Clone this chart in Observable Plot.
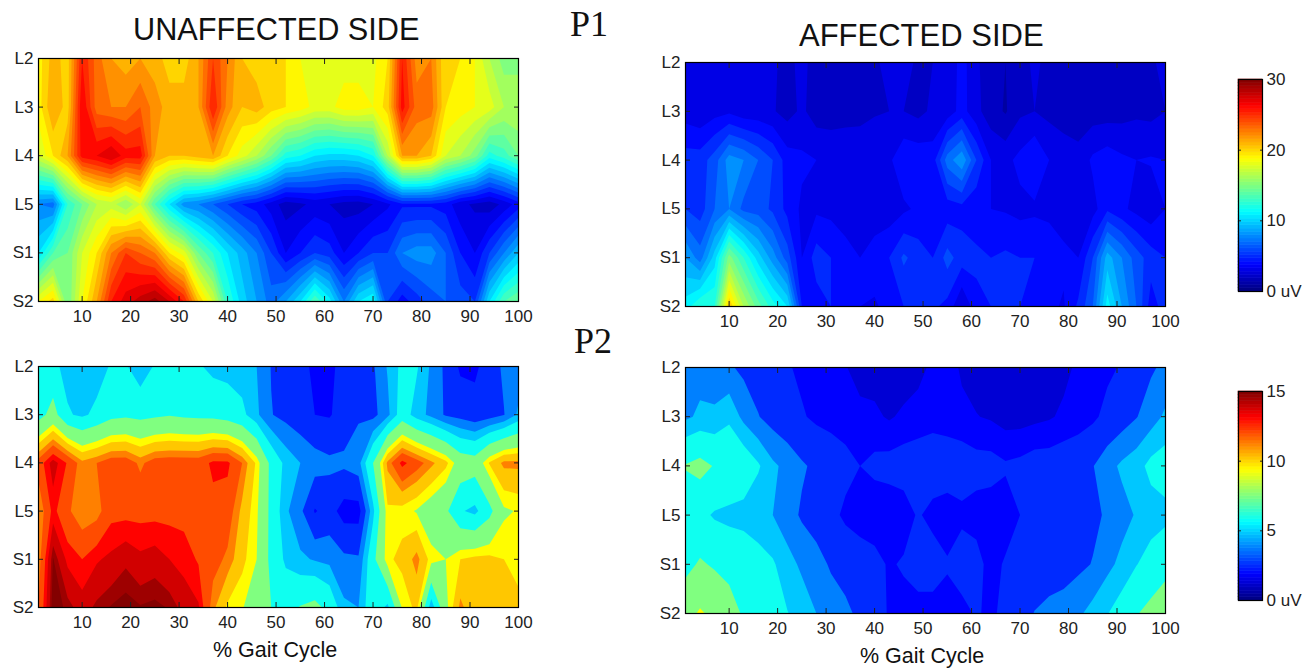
<!DOCTYPE html>
<html>
<head>
<meta charset="utf-8">
<script src="https://cdn.jsdelivr.net/npm/d3@7"></script>
<script src="https://cdn.jsdelivr.net/npm/@observablehq/plot@0.6"></script>
<style>
html,body{margin:0;padding:0;background:#fff;}
#page{position:relative;width:1315px;height:669px;overflow:hidden;font-family:"Liberation Sans",Arial,sans-serif;color:#111;}
#page svg{position:absolute;overflow:visible;background:transparent;}
.t{position:absolute;white-space:nowrap;line-height:1;}
</style>
</head>
<body>
<div id="page"></div>
<script>
const levels = ["L2","L3","L4","L5","S1","S2"];
const gaitTicks = [10,20,30,40,50,60,70,80,90,100];
// Samples at 1,4,7,…,100 % of the gait cycle (34 columns)
const unaffP1_L2 = [19.5,21.5,20.5,26,23.5,22,21.5,22,21.5,20.5,20.5,22,25,23,21,20.5,20.5,20,19,18.5,18.5,18.5,18.5,18.7,20,26,22.5,23,20,20,19,17,15.5,15.5];
const unaffP1_L3 = [19.5,22,20.5,27,23.5,23,23,24,22.5,21.5,21.5,22,26,22.5,21,21.5,20.5,20,19.5,18.7,18.7,19.5,19.5,19,20.5,26.5,23.5,23.5,20,19.5,19,18.5,17,17];
const unaffP1_L4 = [18,20,22,26.5,27,28,26.5,26.5,22,21,21,21.5,22,20,18.5,17,15,12.5,12,11,10.7,10.7,11,12,17,22,22,21,18,17,15.5,12.5,13.5,15];
const unaffP1_L5 = [8,7.5,13,15,17,17.5,16,18,14,11,8.5,8,7,6,5,4.5,3.5,2.5,2.8,3.3,3,2.6,2.5,3,3.8,4.8,4.8,4.8,4.5,3.3,2.8,2.4,3.3,4.5];
const unaffP1_S1 = [11,14,15,18,20,23,25,24,23,20,18.5,15,13,11,9.5,8,6,4,5,6,5.5,4,5,6,6,8,8.5,8.5,7,5,4,6,8,10];
const unaffP1_S2 = [19,20.5,15,19,22,26,27.5,28.5,29.5,28,26,21,18,13,10.5,9,7.5,9,11,14,11.5,8,11,12,6,4.5,5.5,6.5,7,6.5,6,11,14,15];

const affP1_L2 = [3.5,3.2,3.5,3.4,3.4,3.3,3.1,2.8,3.2,2.7,2.7,2.7,2.9,2.9,3.2,3.2,2.9,3,3.2,4.4,3.2,2.3,2,2.6,3.2,2.7,2.6,2.4,2.5,2.5,2.7,3,2.9,3.2];
const affP1_L3 = [3.5,3.2,3.6,3.8,3.3,3.3,3.1,2.6,3.2,2.5,2.5,2.6,2.6,2.9,3,3,2.7,3.2,3.4,4.4,3.3,2.4,1.9,2.8,3,2.7,2.5,2.5,2.5,2.5,2.6,2.8,2.7,3];
const affP1_L4 = [5.5,5.5,6.5,8.5,8,7,6,4.5,4.2,4,3.8,3.8,3.9,3.8,3.8,4.8,4.7,4.5,7.5,8.8,6,4,3.7,4.3,5,4,3.6,3.3,4.2,4.6,4.2,4,4.1,4];
const affP1_L5 = [6,5.5,7,8,6.7,6.5,5.8,4.7,3.8,3.8,3.7,3.2,3,3,3.4,3.8,4.2,4.1,4.4,4.6,4.2,4,3.9,3.7,3.8,3.8,3.6,3.1,3.6,4.8,4.2,3.7,3.3,4];
const affP1_S1 = [9,7.5,10.5,15.5,13,10.5,8.5,6.5,4,5.5,5,4.6,4,4.8,5,6.2,5.5,5,6.4,5.5,5.3,5,5.2,5,5,4.5,4.2,4,6,9.5,8,6.5,5.5,5];
const affP1_S2 = [11.5,13,13,21,17,14.5,12.5,11,5,4.5,5,4.8,4,3.8,4.5,5,5.5,5.2,4.7,3,4.6,5,5,5,4.9,4.2,3.9,5.2,7,11.5,9,7,4.5,5.5];

const unaffP2_L2 = [6,6.2,5.4,5,5.2,6,6,5,6,6.3,6.3,6,5.5,5.4,5.2,4.8,3.7,3.2,2.8,2.3,2.3,2.8,3.2,3.6,4.9,6.2,6,4.6,3.5,2.3,2.3,3,4,4.2];
const unaffP2_L3 = [6.8,8.2,6,5.6,6.2,7,7.2,7,7.2,7.4,7.2,7.1,7,6.7,6.2,5,3.8,3.4,3,2.5,2.4,3,3.6,3.4,4.5,6.6,5.3,4.5,3.6,3.3,2.9,3.2,3.7,5];
const unaffP2_L4 = [12.5,14.2,13,11.5,12,12.6,12.6,11.8,12.5,12.6,12.6,12.6,13.3,13.3,12,10,7,5.5,4.8,4.3,4,4,4.4,7.5,11.5,13.4,12.5,11.5,10.5,8.6,8.3,10.3,11.5,11.5];
const unaffP2_L5 = [11.2,13.4,12.2,11.3,11.6,12.8,12.8,12.8,12.8,12.8,12.8,12.8,12.8,12.6,11,9.6,7,5,4,2.4,3,2,2,5.5,10,9.8,9.3,8.5,7.8,6,5.5,7,9.2,9.5];
const unaffP2_S1 = [11.5,15,13.6,13.1,13.7,14,14.4,14,14.2,13.8,13.5,13,12.4,11.8,10.5,9.4,7,5.6,5,4.7,4.5,4,3.9,7,10,10.5,11.6,9.8,9.4,10.2,10.5,10.5,10.2,9.8];
const unaffP2_S2 = [12,15.3,14.8,14.2,14.7,15,15.2,15,15.1,14.9,14.3,13.9,11.5,10,9.5,8.5,7.5,7,7.6,8,7,5,4.8,7,5.5,9.5,10.5,5,9,11.5,10.5,10.2,10.4,10.5];

const affP2_L2 = [4.5,4.4,4.2,3.9,3.5,3.2,2.9,2.6,2.3,2.2,2.1,1.9,1.7,1.6,1.5,1.5,1.7,2,2.1,1.8,1.6,1.5,1.5,1.5,1.5,1.5,1.7,2,2.1,2.3,2.6,3.2,3.6,4];
const affP2_L3 = [4.6,5,5,5.6,4.5,3.8,3.3,2.9,2.6,2.3,2.2,2.1,2,2,1.8,2,2.1,2.2,2.1,2,1.9,1.8,1.6,1.6,1.7,1.8,2,2.1,2.3,2.8,3.2,3.7,4.3,5];
const affP2_L4 = [7.6,8,7.4,7.2,6.8,6,5,4.5,3.9,3.5,3.1,2.8,2.5,2.7,2.8,2.9,3,3.1,3.1,3,2.8,2.8,2.6,2.7,2.9,2.9,3,3.2,3.7,4.4,5,5.4,6.2,6.5];
const affP2_L5 = [6.5,6.2,5.7,5.5,5.4,5,4.8,4.2,3.6,3.2,2.8,2.3,2.1,2,2,2.1,2.6,2.2,2,2.3,2.2,2.1,2.1,2.5,2.9,3.1,3.2,3.3,3.5,3.9,4.4,4.9,5.3,5.5];
const affP2_S1 = [7,7.7,7.3,7,6.8,6.5,6,5.2,4.6,4.2,3.6,3.3,3,2.8,2.4,2.6,3,3,2.6,3,2.8,2.2,2.6,2.9,3,3.1,3.2,3.5,3.8,4.5,5.1,5.8,6.4,7];
const affP2_S2 = [8.8,9.6,9,8.2,7.3,7,6.5,5.9,5.4,4.8,4.4,4,3.5,3,2.4,2.2,2.1,2.1,2.1,2.2,2.6,2.3,2.8,3.2,3.8,4.1,4.3,4.6,5.2,5.8,6.5,7.4,8,8.5];

const thresholdsP1 = d3.range(0,31,1);
const thresholdsP2 = [0,1.25,1.875,2.5,3.75,4.8,5.85,7.5,9.4,10.2,11.25,12,13.1,13.8,14.55,14.95];
const colorbarTicksP1 = [0,10,20,30];
const colorbarTicksP2 = [0,5,10,15];

function jet(t){
  const c = x => Math.round(255*Math.max(0,Math.min(1,1.5-Math.abs(4*t-x))));
  return `rgb(${c(3)},${c(2)},${c(1)})`;
}

const page = document.getElementById("page");
const mL=40,mR=32,mT=10,mB=32;
const blank = () => "";
const plotStyle = {fontFamily:"'Liberation Sans',Arial,sans-serif",fontSize:"17px",color:"#222",background:"transparent"};

function panel(rows,max,thresholds,x0,y0,w,h){
  const values = rows.flat();
  const svg = Plot.plot({
    width:w+mL+mR, height:h+mT+mB,
    marginLeft:mL, marginRight:mR, marginTop:mT, marginBottom:mB,
    style:plotStyle,
    x:{domain:[1,100]},
    y:{domain:[0,5],reverse:true},
    color:{type:"linear",domain:[0,max],interpolate:jet},
    marks:[
      Plot.contour(values,{value:d=>d,width:34,height:6,x1:-0.5,x2:101.5,y1:-0.5,y2:5.5,thresholds,fill:"value",stroke:"none",clip:true}),
      Plot.axisX({anchor:"bottom",ticks:gaitTicks,tickSize:-5,tickPadding:13,label:null,tickFormat:d=>d}),
      Plot.axisX({anchor:"top",ticks:gaitTicks,tickSize:-5,label:null,tickFormat:blank}),
      Plot.axisY({anchor:"left",ticks:d3.range(6),tickSize:-5,tickPadding:10,label:null,tickFormat:d=>levels[d]}),
      Plot.axisY({anchor:"right",ticks:d3.range(6),tickSize:-5,label:null,tickFormat:blank}),
      Plot.frame({stroke:"#000",strokeWidth:1.2})
    ]
  });
  svg.style.left=(x0-mL)+"px"; svg.style.top=(y0-mT)+"px";
  page.appendChild(svg);
}

function colorbar(max,ticks,x0,y0,w,h){
  const step=max/64;
  const steps=d3.range(64).map(i=>i*step);
  const svg = Plot.plot({
    width:w+10+60, height:h+20,
    marginLeft:10, marginRight:60, marginTop:10, marginBottom:10,
    style:plotStyle,
    x:{domain:[0,1],axis:null},
    y:{domain:[0,max]},
    color:{type:"linear",domain:[0,max],interpolate:jet},
    marks:[
      Plot.rect(steps,{x1:0,x2:1,y1:d=>d,y2:d=>d+step,fill:d=>d+step/2,stroke:d=>d+step/2,strokeWidth:0.6,inset:0}),
      Plot.axisY({anchor:"right",ticks,tickSize:-3,tickPadding:7,label:null,tickFormat:d=>d===0?"0 uV":d}),
      Plot.axisY({anchor:"left",ticks,tickSize:-3,label:null,tickFormat:blank}),
      Plot.frame({stroke:"#000",strokeWidth:1.2})
    ]
  });
  svg.style.left=(x0-10)+"px"; svg.style.top=(y0-10)+"px";
  page.appendChild(svg);
}

panel([unaffP1_L2,unaffP1_L3,unaffP1_L4,unaffP1_L5,unaffP1_S1,unaffP1_S2],30,thresholdsP1,38,58,480,243);
panel([affP1_L2,affP1_L3,affP1_L4,affP1_L5,affP1_S1,affP1_S2],30,thresholdsP1,685,62,480,244);
panel([unaffP2_L2,unaffP2_L3,unaffP2_L4,unaffP2_L5,unaffP2_S1,unaffP2_S2],15,thresholdsP2,38,366,480,241);
panel([affP2_L2,affP2_L3,affP2_L4,affP2_L5,affP2_S1,affP2_S2],15,thresholdsP2,685,367,480,246);
colorbar(30,colorbarTicksP1,1238,79,24,212);
colorbar(15,colorbarTicksP2,1238,391,24,209);

const texts=[
  ["UNAFFECTED SIDE",133,15,30.7,"Liberation Sans"],
  ["AFFECTED SIDE",799,20,31,"Liberation Sans"],
  ["P1",570,6,36,"Liberation Serif"],
  ["P2",574,323,36,"Liberation Serif"],
  ["% Gait Cycle",213,640,21.5,"Liberation Sans"],
  ["% Gait Cycle",860,646,21.5,"Liberation Sans"]
];
for(const [s,x,y,fs,ff] of texts){
  const d=document.createElement("div");
  d.className="t"; d.textContent=s;
  d.style.left=x+"px"; d.style.top=y+"px"; d.style.fontSize=fs+"px"; d.style.fontFamily=`"${ff}"`;
  page.appendChild(d);
}
</script>
</body>
</html>
